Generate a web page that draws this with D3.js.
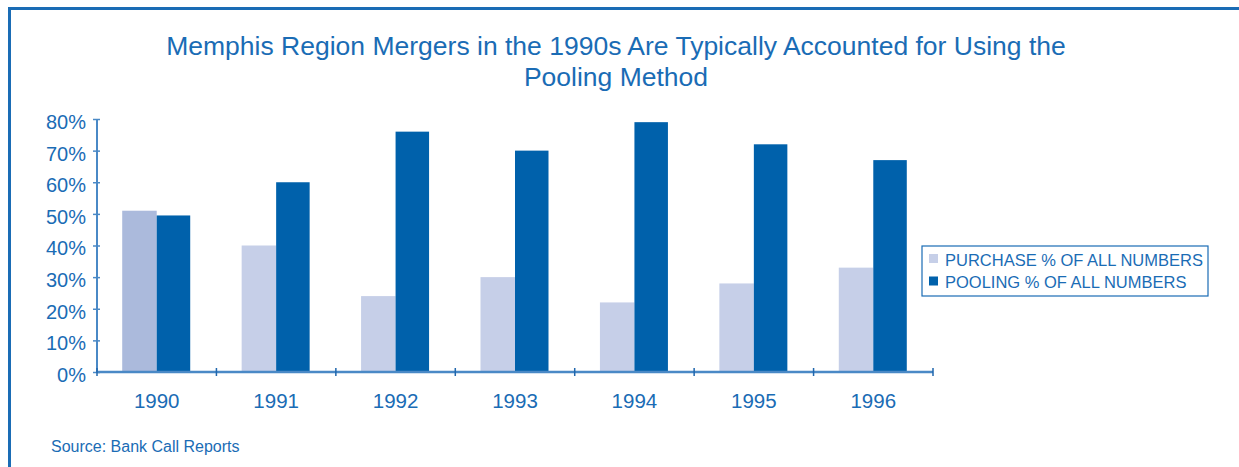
<!DOCTYPE html>
<html>
<head>
<meta charset="utf-8">
<script src="https://cdn.jsdelivr.net/npm/d3@7/dist/d3.min.js"></script>
<style>
  body { margin: 0; background: #fff; }
  text { font-family: "Liberation Sans", Arial, sans-serif; }
</style>
</head>
<body>
<div id="chart"></div>
<script>
// data
const years = ["1990", "1991", "1992", "1993", "1994", "1995", "1996"];
const purchase = [51, 40, 24, 30, 22, 28, 33];
const pooling = [49.5, 60, 76, 70, 79, 72, 67];
const yTicks = [0, 10, 20, 30, 40, 50, 60, 70, 80];
const seriesNames = ["PURCHASE % OF ALL NUMBERS", "POOLING % OF ALL NUMBERS"];

const W = 1239, H = 467;
const blue = "#1a6cb5";
const axisCol = "#4a89c6";
const purchaseCol = "#c6cfe8";
const pooling_col = "#0061ab";

let svg = d3.select("#chart")
    .append("svg")
    .attr("width", W)
    .attr("height", H)

// frame lines
svg.append("path")
    .attr("d", "M9.5," + H + "V8.5H" + W)
    .attr("fill", "none")
    .attr("stroke", blue)
    .attr("stroke-width", 3)

// title
svg.append("text")
    .attr("x", 616).attr("y", 55)
    .attr("text-anchor", "middle")
    .attr("font-size", 26.5)
    .attr("fill", blue)
    .text("Memphis Region Mergers in the 1990s Are Typically Accounted for Using the")
svg.append("text")
    .attr("x", 616).attr("y", 86)
    .attr("text-anchor", "middle")
    .attr("font-size", 26.5)
    .attr("fill", blue)
    .text("Pooling Method")

let x = d3.scaleBand().domain(years).range([97, 933]);
let y = d3.scaleLinear().domain([0, 80]).range([372, 119]);
let barW = 34.5;

let g = svg.append("g");

// purchase bars (1990 slightly darker in the original)
g.selectAll(".purchase")
    .data(purchase)
    .enter()
    .append("rect")
    .attr("class", "purchase")
    .attr("x", (d, i) => x(years[i]) + x.bandwidth() / 2 - barW)
    .attr("y", d => y(d))
    .attr("width", barW)
    .attr("height", d => y(0) - y(d))
    .attr("fill", (d, i) => i === 0 ? "#abbadc" : purchaseCol)

g.selectAll(".pooling")
    .data(pooling)
    .enter()
    .append("rect")
    .attr("class", "pooling")
    .attr("x", (d, i) => x(years[i]) + x.bandwidth() / 2)
    .attr("y", d => y(d))
    .attr("width", barW - 1)
    .attr("height", d => y(0) - y(d))
    .attr("fill", pooling_col)

// y axis
let yAxis = svg.append("g")
    .attr("transform", "translate(97,0)")
    .call(d3.axisLeft(y).tickValues(yTicks).tickSize(4).tickFormat(d => d + "%"));
yAxis.select(".domain").attr("stroke", axisCol).attr("stroke-width", 2)
    .attr("d", "M0," + y(80) + "V" + y(0));
yAxis.selectAll(".tick line").attr("stroke", axisCol).attr("stroke-width", 1.5)
    .attr("x1", 3).attr("x2", -4);
yAxis.selectAll(".tick text")
    .attr("x", -11)
    .attr("dy", "0.47em")
    .attr("font-size", 20)
    .attr("fill", blue)
    .attr("font-family", "Liberation Sans, Arial, sans-serif")

// x axis
let xAxis = svg.append("g")
    .attr("transform", "translate(0," + y(0) + ")");
xAxis.append("line")
    .attr("x1", 97).attr("x2", 933)
    .attr("stroke", axisCol).attr("stroke-width", 2.5)
let bounds = years.map(d => x(d)).concat([x.range()[1]]);
xAxis.selectAll(".xt")
    .data(bounds)
    .enter()
    .append("line")
    .attr("x1", d => d).attr("x2", d => d)
    .attr("y1", -4).attr("y2", 4)
    .attr("stroke", "#1f66ad").attr("stroke-width", 1.5)
xAxis.selectAll(".xl")
    .data(years)
    .enter()
    .append("text")
    .attr("x", d => x(d) + x.bandwidth() / 2)
    .attr("y", 36)
    .attr("text-anchor", "middle")
    .attr("font-size", 20.5)
    .attr("fill", blue)
    .text(d => d)

// legend
let leg = svg.append("g").attr("transform", "translate(922,246)");
leg.append("rect")
    .attr("width", 286).attr("height", 50)
    .attr("fill", "#fff")
    .attr("stroke", blue).attr("stroke-width", 1.2)
let cols = [purchaseCol, pooling_col];
leg.selectAll(".sw")
    .data(seriesNames)
    .enter()
    .append("rect")
    .attr("x", 7)
    .attr("y", (d, i) => 8 + i * 22.5)
    .attr("width", 9).attr("height", 9)
    .attr("fill", (d, i) => cols[i])
leg.selectAll(".lt")
    .data(seriesNames)
    .enter()
    .append("text")
    .attr("x", 23)
    .attr("y", (d, i) => 20 + i * 22)
    .attr("font-size", 16.5)
    .attr("fill", blue)
    .text(d => d)

// source
svg.append("text")
    .attr("x", 51).attr("y", 452)
    .attr("font-size", 16)
    .attr("fill", blue)
    .text("Source: Bank Call Reports")
</script>
</body>
</html>
